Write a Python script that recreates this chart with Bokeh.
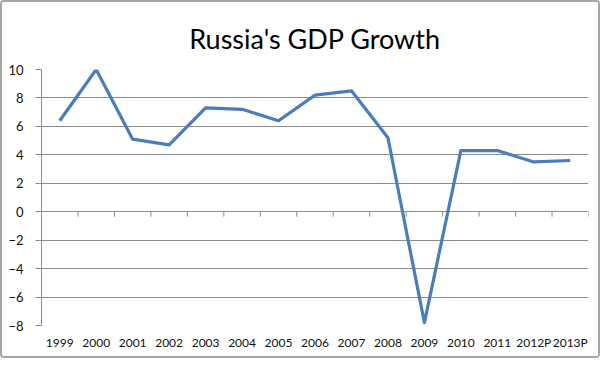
from bokeh.plotting import figure
from bokeh.models import FixedTicker, Range1d
from bokeh.embed import file_html
from bokeh.resources import INLINE

categories = ["1999", "2000", "2001", "2002", "2003", "2004", "2005", "2006",
              "2007", "2008", "2009", "2010", "2011", "2012P", "2013P"]
gdp_growth = [6.4, 10.0, 5.1, 4.7, 7.3, 7.2, 6.4, 8.2, 8.5, 5.2, -7.8, 4.3, 4.3, 3.5, 3.6]
y_ticks = [-8, -6, -4, -2, 0, 2, 4, 6, 8, 10]
title_text = "Russia's GDP Growth"

FONT = "Lato"
n = len(categories)
xs = list(range(n))

p = figure(width=600, height=358, output_backend="svg", toolbar_location=None,
           x_range=Range1d(-0.5, n - 0.5), y_range=Range1d(min(y_ticks), max(y_ticks)),
           min_border_left=39, min_border_right=14, min_border_top=67, min_border_bottom=35,
           background_fill_color="white", border_fill_color="white",
           styles={"border": "2px solid #a6a6a6", "border-radius": "4px"})
p.outline_line_color = None

p.title.text = title_text
p.title.align = "center"
p.title.text_font = FONT
p.title.text_font_size = "27px"
p.title.text_font_style = "normal"
p.title.text_color = "#000000"
p.title.standoff = 30

p.xgrid.grid_line_color = None
p.ygrid.grid_line_color = "#8c8c8c"
p.ygrid.grid_line_width = 1
p.ygrid.ticker = FixedTicker(ticks=y_ticks)

p.yaxis.ticker = FixedTicker(ticks=y_ticks)
p.yaxis.axis_line_color = "#8c8c8c"
p.yaxis.major_tick_line_color = "#8c8c8c"
p.yaxis.major_tick_out = 6
p.yaxis.major_tick_in = 0
p.yaxis.minor_tick_line_color = None
p.yaxis.major_label_standoff = 12
p.yaxis.major_label_text_font = FONT
p.yaxis.major_label_text_font_size = "13px"
p.yaxis.major_label_text_color = "#111111"

p.xaxis.ticker = FixedTicker(ticks=xs)
p.xaxis.major_label_overrides = {i: c for i, c in enumerate(categories)}
p.xaxis.axis_line_color = None
p.xaxis.major_tick_line_color = None
p.xaxis.major_tick_out = 0
p.xaxis.major_tick_in = 0
p.xaxis.minor_tick_line_color = None
p.xaxis.major_label_standoff = 9
p.xaxis.major_label_text_font = FONT
p.xaxis.major_label_text_font_size = "12px"
p.xaxis.major_label_text_color = "#111111"

bounds = [i + 0.5 for i in range(n)]
p.segment(x0=bounds, y0=[0] * n, x1=bounds, y1=[-0.35] * n,
          line_color="#8c8c8c", line_width=1)

p.line(xs, gdp_growth, line_color="#4a7ebb", line_width=3.2, line_join="round")

open("out.html", "w").write(file_html(p, INLINE))
